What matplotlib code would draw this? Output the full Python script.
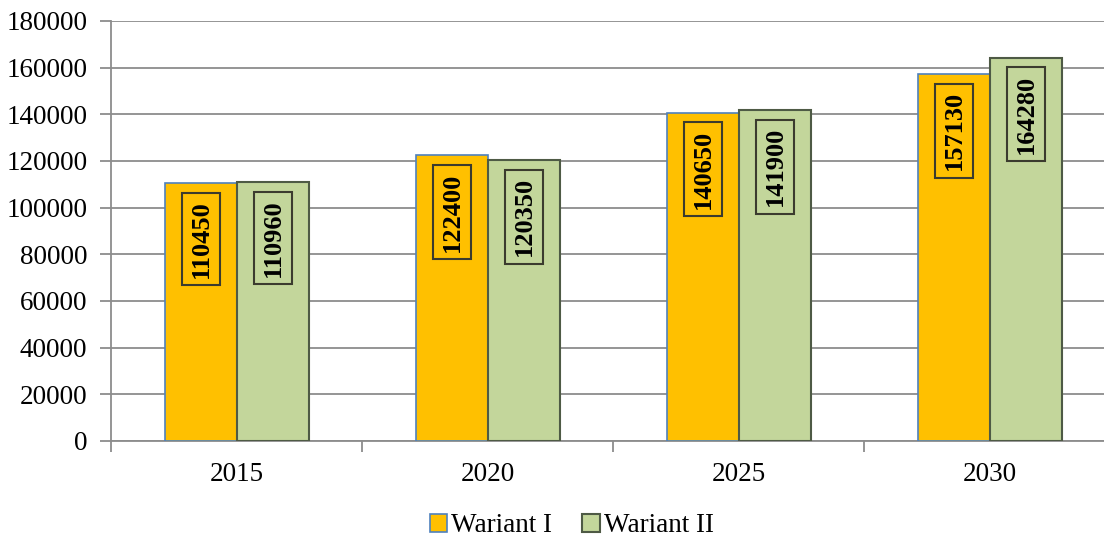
import matplotlib.pyplot as plt
import numpy as np

plt.rcParams['font.family'] = ['Liberation Serif', 'DejaVu Serif']

years = ['2015', '2020', '2025', '2030']
wariant_1 = [110450, 122400, 140650, 157130]
wariant_2 = [110960, 120350, 141900, 164280]

fig = plt.figure(figsize=(11.04, 5.37), dpi=100)
ax = fig.add_axes([0.1005, 0.1788, 0.8995, 0.7821])

x = np.arange(len(years))
w = 0.287
b1 = ax.bar(x - w / 2, wariant_1, w, color='#FFC000', edgecolor='#4F81BD', lw=1.2,
            label='Wariant I', zorder=3)
b2 = ax.bar(x + w / 2, wariant_2, w, color='#C3D69B', edgecolor='#4E5A45', lw=1.5,
            label='Wariant II', zorder=3)

# pionowe etykiety z wartościami w ramkach
for bars, vals in ((b1, wariant_1), (b2, wariant_2)):
    for r, v in zip(bars, vals):
        ax.annotate(str(v), xy=(r.get_x() + r.get_width() / 2, v), xytext=(0, -17),
                    textcoords='offset pixels', rotation=90, ha='center', va='top',
                    fontsize=19, fontweight='bold', zorder=4,
                    bbox=dict(boxstyle='square,pad=0.28', fc='none', ec='#3b3b2e', lw=1.5))

ax.set_ylim(0, 180000)
ax.set_yticks(range(0, 180001, 20000))
ax.yaxis.grid(True, color='#8c8c8c', lw=1.3, zorder=0)
ax.set_axisbelow(True)

ax.set_xticks(x)
ax.set_xticklabels(years)
ax.set_xticks(np.arange(-0.5, 3, 1), minor=True)
ax.set_xlim(-0.502, -0.502 + 993 / 251)
ax.tick_params(axis='x', which='major', length=0, pad=15, labelsize=19.5)
ax.tick_params(axis='x', which='minor', length=8, color='#8c8c8c', width=1.3)
ax.tick_params(axis='y', length=8, color='#8c8c8c', width=1.3, labelsize=19.5, pad=9)

for s in ('top', 'right'):
    ax.spines[s].set_visible(False)
for s in ('left', 'bottom'):
    ax.spines[s].set_color('#8c8c8c')
    ax.spines[s].set_linewidth(1.3)

fig.legend(loc='center', bbox_to_anchor=(0.518, 0.021), ncol=2, frameon=False,
           fontsize=19.5, handlelength=0.65, handleheight=0.65, handletextpad=0.15,
           columnspacing=1.1, borderpad=0)

plt.savefig('out.png', dpi=100)
